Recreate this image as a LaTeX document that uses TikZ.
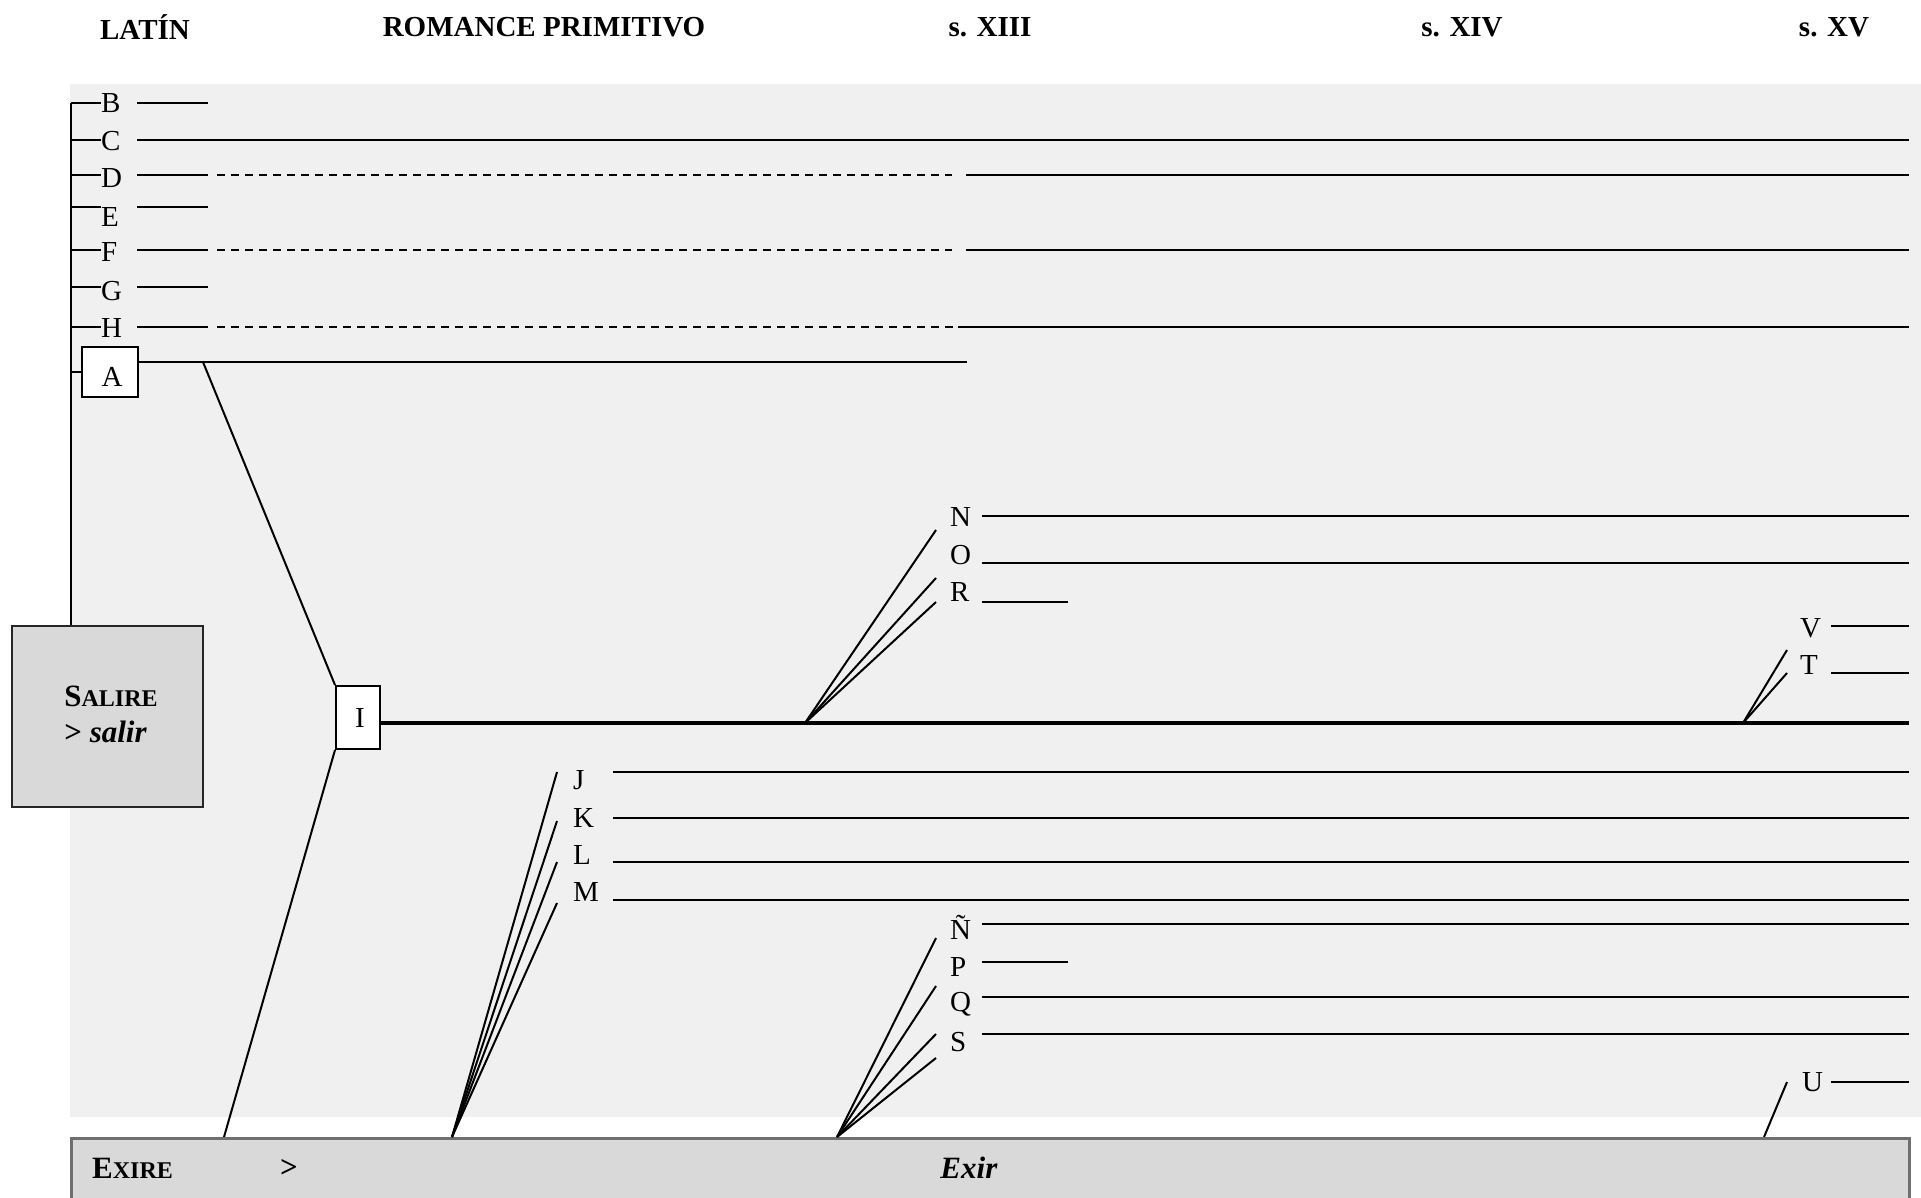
\documentclass[tikz,border=0pt]{standalone}
\usepackage{fontspec}
\setmainfont{Liberation Serif}
\definecolor{bgc}{HTML}{F0F0F0}
\definecolor{boxgrey}{HTML}{D9D9D9}
\definecolor{exborder}{HTML}{6F6F6F}
\begin{document}
\begin{tikzpicture}[x=1pt,y=-1pt,
  ln/.style={line width=2pt,black},
  dsh/.style={line width=2pt,black,dash pattern=on 7.5pt off 6.5pt},
  trunkline/.style={line width=4.5pt,black},
  lbl/.style={inner sep=0pt,anchor=base west,font=\fontsize{29}{29}\selectfont},
  hdr/.style={inner sep=0pt,font=\bfseries\fontsize{29}{29}\selectfont},
  smallbox/.style={draw,fill=white,line width=2pt,inner sep=0pt},
  bigtxt/.style={inner sep=0pt,font=\bfseries\fontsize{31}{36}\selectfont}
]
\useasboundingbox (0,0) rectangle (1921,1197);
\fill[bgc] (70,84) rectangle (1921,1117);

% headers
\node[hdr] (h1) at (145,27) {LATÍN};
\node[hdr] (h2) at (544,27) {ROMANCE PRIMITIVO};
\node[hdr] (h3) at (990,27) {s. XIII};
\node[hdr] (h4) at (1462,27) {s. XIV};
\node[hdr] (h5) at (1834,27) {s. XV};

% Salire box and trunk
\node[draw=black!85,fill=boxgrey,line width=2pt,minimum width=191pt,minimum height=181pt,inner sep=0pt] (salire) at (107.5,716.5) {};
\node[bigtxt,align=left] (salt) at (111,714) {S{\fontsize{24}{24}\selectfont ALIRE}\\> \textit{salir}};
\coordinate (ttop) at (71,103);
\draw[ln] (ttop) -- (salire.north -| ttop);

% left labels: name / line y / letter y
\foreach \n/\y/\t in {B/103/103,C/140/141,D/175/178,E/207/217,F/250/252,G/287/291,H/327/328}{
  \node[lbl] (\n) at (101,\t+9.6) {\n};
  \draw[ln] (71,\y) -- (\n.west |- 0,\y);
}
\draw[ln] (137,103) -- (208,103);
\draw[ln] (137,140) -- (1909,140);
\draw[ln] (137,175) -- (208,175);
\draw[dsh] (217,175) -- (952,175);
\draw[ln] (966,175) -- (1909,175);
\draw[ln] (137,207) -- (208,207);
\draw[ln] (137,250) -- (208,250);
\draw[dsh] (217,250) -- (952,250);
\draw[ln] (966,250) -- (1909,250);
\draw[ln] (137,287) -- (208,287);
\draw[ln] (137,327) -- (208,327);
\draw[dsh] (217,327) -- (958,327);
\draw[ln] (958,327) -- (1909,327);

% A box
\node[smallbox,minimum width=56pt,minimum height=50pt] (A) at (110,372) {};
\node[lbl,anchor=base] (Atxt) at (112,377+9.6) {A};
\draw[ln] (71,372) -- (A.west);
\draw[ln] (A.east |- 0,362) -- (967,362);
\coordinate (asplit) at (203,362);

% I box
\node[smallbox,minimum width=44pt,minimum height=63pt] (I) at (358,717.5) {};
\node[lbl,anchor=base] (Itxt) at (360,718+9.6) {I};
\draw[ln] (asplit) -- (I.north west);
\coordinate (exA) at (224,1137);
\draw[ln] (I.south west) -- (exA);
\draw[trunkline] (I.east |- 0,723) -- (1909,723);

% Exire box
\node[draw=exborder,fill=boxgrey,line width=2.5pt,minimum width=1838pt,minimum height=100pt,inner sep=0pt,anchor=north west] (exire) at (70,1137) {};
\node[bigtxt,anchor=west] (ext) at (92,1168) {E{\fontsize{24}{24}\selectfont XIRE}};
\node[bigtxt] (gt) at (289,1168) {>};
\node[bigtxt] (exir) at (969,1168) {\textit{Exir}};

% N O R fan
\coordinate (f1) at (805,723);
\node[lbl] (N) at (950,517+9.6) {N};
\node[lbl] (O) at (950,555+9.6) {O};
\node[lbl] (R) at (950,592+9.6) {R};
\draw[ln] (f1) -- (936,530);
\draw[ln] (f1) -- (936,578);
\draw[ln] (f1) -- (936,602);
\draw[ln] (982,516) -- (1909,516);
\draw[ln] (982,563) -- (1909,563);
\draw[ln] (982,602) -- (1068,602);

% V T fan
\coordinate (f2) at (1743,723);
\node[lbl] (V) at (1800,628+9.6) {V};
\node[lbl] (T) at (1800,665+9.6) {T};
\draw[ln] (f2) -- (1787,650);
\draw[ln] (f2) -- (1787,673);
\draw[ln] (1831,626) -- (1909,626);
\draw[ln] (1831,673) -- (1909,673);

% J K L M fan
\coordinate (f3) at (452,1137);
\node[lbl] (J) at (573,780+9.6) {J};
\node[lbl] (K) at (573,818+9.6) {K};
\node[lbl] (L) at (573,855+9.6) {L};
\node[lbl] (M) at (573,892+9.6) {M};
\draw[ln] (f3) -- (557,772);
\draw[ln] (f3) -- (557,821);
\draw[ln] (f3) -- (557,862);
\draw[ln] (f3) -- (557,903);
\draw[ln] (613,772) -- (1909,772);
\draw[ln] (613,818) -- (1909,818);
\draw[ln] (613,862) -- (1909,862);
\draw[ln] (613,900) -- (1909,900);

% Ñ P Q S fan
\coordinate (f4) at (837,1137);
\node[lbl] (Nt) at (950,930+9.6) {Ñ};
\node[lbl] (P) at (950,967+9.6) {P};
\node[lbl] (Q) at (950,1002+9.6) {Q};
\node[lbl] (S) at (950,1042+9.6) {S};
\draw[ln] (f4) -- (936,938);
\draw[ln] (f4) -- (936,986);
\draw[ln] (f4) -- (936,1034);
\draw[ln] (f4) -- (936,1058);
\draw[ln] (982,924) -- (1909,924);
\draw[ln] (982,962) -- (1068,962);
\draw[ln] (982,997) -- (1909,997);
\draw[ln] (982,1034) -- (1909,1034);

% U
\coordinate (f5) at (1764,1137);
\node[lbl] (U) at (1802,1082+9.6) {U};
\draw[ln] (f5) -- (1787,1082);
\draw[ln] (1831,1082) -- (1909,1082);
\end{tikzpicture}
\end{document}
